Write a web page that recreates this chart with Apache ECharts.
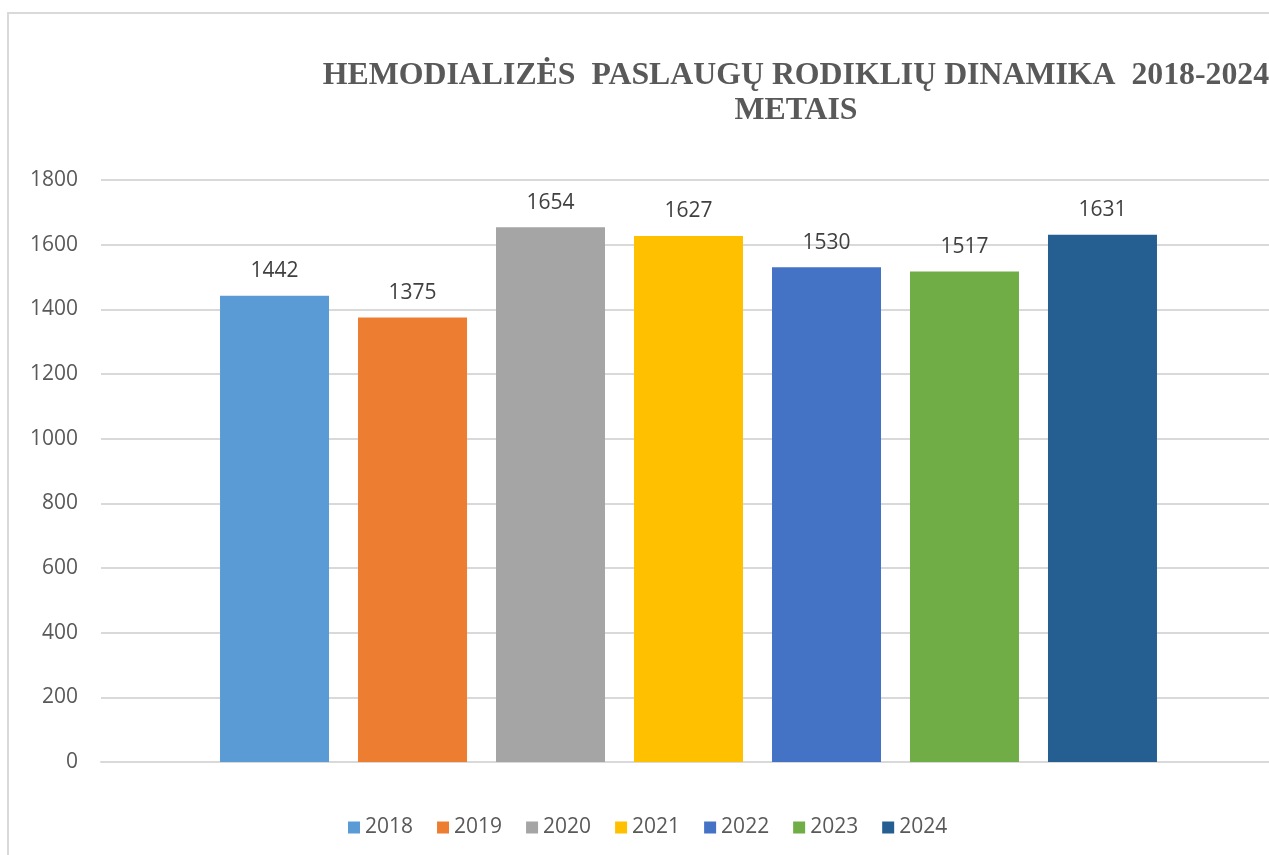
<!DOCTYPE html>
<html>
<head>
<meta charset="utf-8">
<script src="https://cdn.jsdelivr.net/npm/echarts@6/dist/echarts.min.js"></script>
<style>
  html, body { margin: 0; padding: 0; background: #fff; }
  #chart { width: 1269px; height: 855px; }
</style>
</head>
<body>
<div id="chart"></div>
<script>
// metai ir reikšmės
const years = ['2018', '2019', '2020', '2021', '2022', '2023', '2024']
const values = [1442, 1375, 1654, 1627, 1530, 1517, 1631]
const colors = ['#5b9bd5', '#ed7d31', '#a5a5a5', '#ffc000', '#4472c4', '#70ad47', '#255e91']
const yTicks = { min: 0, max: 1800, interval: 200 }

const chart = echarts.init(document.getElementById('chart'))

// stulpeliai antrame (nematomame) tinklelyje, kad grupė būtų centruota kaip originale
const series = years.map((y, i) => ({
  name: y,
  type: 'bar',
  xAxisIndex: 1,
  yAxisIndex: 1,
  data: [values[i]],
  barWidth: 109,
  barGap: '26.6%',
  itemStyle: { color: colors[i] },
  label: {
    show: true,
    position: 'top',
    distance: 14,
    color: '#404040',
    fontFamily: 'Open Sans',
    fontSize: 21
  }
}))

chart.setOption({
  animation: false,
  graphic: [{
    type: 'rect',
    shape: { x: 8, y: 13, width: 1300, height: 900 },
    style: { fill: 'none', stroke: '#d9d9d9', lineWidth: 2 },
    silent: true
  }],
  title: {
    text: 'HEMODIALIZĖS  PASLAUGŲ RODIKLIŲ DINAMIKA  2018-2024\nMETAIS',
    left: 791,
    top: 53,
    textAlign: 'center',
    textStyle: {
      fontFamily: 'Liberation Serif',
      fontWeight: 'bold',
      fontSize: 31.8,
      lineHeight: 35,
      color: '#595959'
    }
  },
  legend: {
    data: years,
    left: 343,
    top: 812,
    itemWidth: 12,
    itemHeight: 12,
    itemGap: 24,
    icon: 'rect',
    textStyle: { fontFamily: 'Open Sans', fontSize: 21, color: '#595959' }
  },
  grid: [
    { left: 101, right: 0, top: 180, bottom: 93 },
    { left: 108, right: 0, top: 180, bottom: 93 }
  ],
  xAxis: [
    {
      type: 'category',
      gridIndex: 0,
      data: [''],
      axisLine: { lineStyle: { color: '#d9d9d9', width: 2 } },
      axisTick: { show: false },
      axisLabel: { show: false }
    },
    {
      type: 'category',
      gridIndex: 1,
      data: [''],
      show: false
    }
  ],
  yAxis: [
    {
      type: 'value',
      gridIndex: 0,
      min: yTicks.min,
      max: yTicks.max,
      interval: yTicks.interval,
      axisLine: { show: false },
      axisTick: { show: false },
      axisLabel: {
        margin: 23,
        color: '#595959',
        fontFamily: 'Open Sans',
        fontSize: 21,
        formatter: v => String(v)
      },
      splitLine: { lineStyle: { color: '#d9d9d9', width: 2 } }
    },
    {
      type: 'value',
      gridIndex: 1,
      min: yTicks.min,
      max: yTicks.max,
      interval: yTicks.interval,
      show: false,
      splitLine: { show: false }
    }
  ],
  series: series
})
</script>
</body>
</html>
